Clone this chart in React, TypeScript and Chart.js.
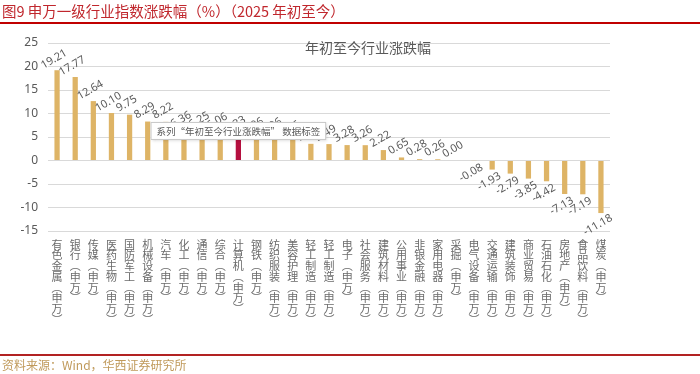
import React, { useEffect, useRef } from "react";
import { Chart, registerables } from "chart.js";

Chart.register(...registerables);

const pageTitle = "图9 申万一级行业指数涨跌幅（%）（2025 年初至今）";
const chartTitle = "年初至今行业涨跌幅";
const sourceNote = "资料来源：Wind，华西证券研究所";
const tooltipText = "系列“年初至今行业涨跌幅” 数据标签";

const categories = [
  "有色金属(申万)", "银行(申万)", "传媒(申万)", "医药生物(申万)", "国防军工(申万)",
  "机械设备(申万)", "汽车(申万)", "化工(申万)", "通信(申万)", "综合(申万)",
  "计算机(申万)", "钢铁(申万)", "纺织服装(申万)", "美容护理(申万)", "轻工制造(申万)",
  "轻工制造(申万)", "电子(申万)", "社会服务(申万)", "建筑材料(申万)", "公用事业(申万)",
  "非银金融(申万)", "家用电器(申万)", "采掘(申万)", "电气设备(申万)", "交通运输(申万)",
  "建筑装饰(申万)", "商业贸易(申万)", "石油石化(申万)", "房地产(申万)", "食品饮料(申万)",
  "煤炭(申万)",
];

const values = [
  19.21, 17.77, 12.64, 10.10, 9.75,
  8.29, 8.22, 6.36, 6.25, 6.06,
  5.33, 5.06, 4.96, 4.36, 3.55,
  3.49, 3.28, 3.26, 2.22, 0.65,
  0.28, 0.26, 0.00, -0.08, -1.93,
  -2.79, -3.85, -4.42, -7.13, -7.19,
  -11.18,
];

const highlightIndex = 10;
const yTicks = [-15, -10, -5, 0, 5, 10, 15, 20, 25];

const BAR = "#DEB466";
const BAR_HL = "#B5103F";
const TEXT = "#595959";
const RED = "#C0272D";

const toVertical = (s: string) =>
  Array.from(s).map((c) => (c === "(" ? "︵" : c === ")" ? "︶" : c));

const overlayPlugin = {
  id: "overlay",
  afterDatasetsDraw(chart: any) {
    const ctx = chart.ctx;
    const meta = chart.getDatasetMeta(0);
    ctx.save();
    ctx.font = '11px "Noto Sans", sans-serif';
    ctx.fillStyle = TEXT;
    ctx.textAlign = "center";
    ctx.textBaseline = "middle";
    meta.data.forEach((bar: any, i: number) => {
      const v = values[i];
      const cx = bar.x - 3;
      const cy = v >= 0 ? bar.y - 11 : bar.y + 12;
      ctx.save();
      ctx.translate(cx, cy);
      ctx.rotate(-Math.PI / 6);
      ctx.fillText(v.toFixed(2), 0, 0);
      ctx.restore();
    });
    ctx.restore();

    // hover tooltip box over highlighted bar
    const hb = meta.data[highlightIndex];
    const ys = chart.scales.y;
    ctx.save();
    ctx.font = '9.5px "Noto Sans CJK SC", sans-serif';
    const tw = ctx.measureText(tooltipText).width;
    const bw = tw + 12;
    const bh = 18;
    const bx = hb.x - bw / 2;
    const by = ys.getPixelForValue(8.2);
    ctx.shadowColor = "rgba(0,0,0,0.18)";
    ctx.shadowBlur = 3;
    ctx.shadowOffsetX = 1;
    ctx.shadowOffsetY = 1;
    ctx.fillStyle = "#ffffff";
    ctx.fillRect(bx, by, bw, bh);
    ctx.shadowColor = "transparent";
    ctx.strokeStyle = "#c8c8c8";
    ctx.lineWidth = 1;
    ctx.strokeRect(bx + 0.5, by + 0.5, bw - 1, bh - 1);
    ctx.fillStyle = TEXT;
    ctx.textAlign = "center";
    ctx.textBaseline = "middle";
    ctx.fillText(tooltipText, hb.x, by + bh / 2 + 0.5);
    ctx.restore();
  },
  afterDraw(chart: any) {
    const ctx = chart.ctx;
    const W = chart.width;
    ctx.save();
    // page title
    ctx.font = '14.5px "Noto Sans CJK SC", sans-serif';
    ctx.fillStyle = RED;
    ctx.textAlign = "left";
    ctx.textBaseline = "middle";
    ctx.fillText(pageTitle, 2, 11);
    ctx.fillStyle = "#C00000";
    ctx.fillRect(0, 22, W, 2);
    // chart title
    ctx.font = '14px "Noto Sans CJK SC", sans-serif';
    ctx.fillStyle = TEXT;
    ctx.textAlign = "center";
    ctx.fillText(chartTitle, W / 2 + 18, 48);
    // footer
    ctx.fillStyle = "#B22222";
    ctx.fillRect(0, 354, W, 2);
    ctx.font = '12px "Noto Sans CJK SC", sans-serif';
    ctx.fillStyle = "#C09A5B";
    ctx.textAlign = "left";
    ctx.fillText(sourceNote, 2, 365);
    ctx.restore();
  },
};

export default function App() {
  const ref = useRef<HTMLCanvasElement | null>(null);

  useEffect(() => {
    document.body.style.margin = "0";
    const canvas = ref.current;
    if (!canvas) return;
    const chart = new Chart(canvas, {
      type: "bar",
      data: {
        labels: categories,
        datasets: [
          {
            data: values,
            backgroundColor: values.map((_, i) => (i === highlightIndex ? BAR_HL : BAR)),
            barPercentage: 0.29,
            categoryPercentage: 1,
          },
        ],
      },
      options: {
        responsive: false,
        animation: false,
        events: [],
        layout: { padding: { top: 43, right: 90, left: 0, bottom: 0 } },
        plugins: {
          legend: { display: false },
          tooltip: { enabled: false },
          title: { display: false },
        },
        scales: {
          x: {
            offset: true,
            grid: { display: false, drawTicks: false },
            border: { display: false },
            ticks: {
              autoSkip: false,
              maxRotation: 0,
              minRotation: 0,
              padding: 8,
              color: "#6b6b6b",
              font: { size: 11, family: '"Noto Sans CJK SC", sans-serif', lineHeight: 0.98 },
              callback: (_v: any, i: number) => toVertical(categories[i]),
            },
            afterFit: (scale: any) => {
              scale.height = 143;
            },
          },
          y: {
            min: -15,
            max: 25,
            afterBuildTicks: (scale: any) => {
              scale.ticks = yTicks.map((v) => ({ value: v }));
            },
            grid: { color: "#D9D9D9", lineWidth: 1, drawTicks: false },
            border: { display: false },
            ticks: {
              padding: 10,
              color: TEXT,
              font: { size: 12, family: '"Noto Sans", sans-serif' },
            },
            afterFit: (scale: any) => {
              scale.width = 48;
            },
          },
        },
      },
      plugins: [overlayPlugin],
    });
    return () => chart.destroy();
  }, []);

  return (
    <div style={{ width: 700, height: 374 }}>
      <canvas ref={ref} width={700} height={374} style={{ display: "block" }} />
    </div>
  );
}
